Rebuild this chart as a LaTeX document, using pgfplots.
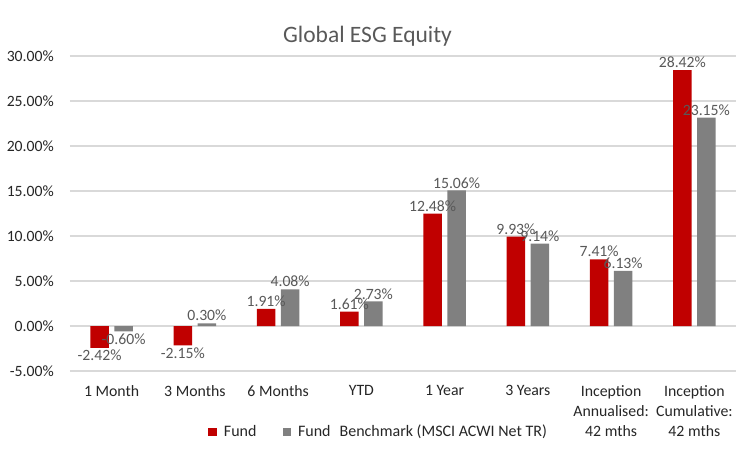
\documentclass[border=0pt]{standalone}
\usepackage{fontspec}
\setmainfont{Carlito}
\usepackage{pgfplots}
\pgfplotsset{compat=1.18}
\definecolor{fundred}{RGB}{192,0,0}
\definecolor{benchgray}{RGB}{128,128,128}
\definecolor{txtgray}{RGB}{89,89,89}
\definecolor{tickgray}{RGB}{38,38,38}
\definecolor{gridgray}{RGB}{217,217,217}
\begin{document}
\begin{tikzpicture}[x=1pt,y=1pt]
\path (0,0) rectangle (749,451);
\node[anchor=base, text=txtgray, font=\fontsize{23.5}{28}\selectfont, inner sep=0pt] at (367.5,408) {Global ESG Equity};
\begin{axis}[
  at={(70pt,80pt)}, anchor=south west,
  scale only axis, width=666pt, height=315pt,
  ybar=5.5pt, bar width=18.5pt,
  xmin=-0.5, xmax=7.5, ymin=-5, ymax=30,
  xtick={0,...,7},
  xticklabels={1 Month, 3 Months, 6 Months, YTD, 1 Year, 3 Years, {Inception\\Annualised:\\42 mths}, {Inception\\Cumulative:\\42 mths}},
  xticklabel style={align=center, font=\fontsize{15.8}{19.7}\selectfont, text=tickgray, anchor=north, inner sep=0pt, yshift=-14.5pt},
  ytick={-5,0,5,10,15,20,25,30},
  yticklabel={\pgfmathprintnumber[fixed,fixed zerofill,precision=2,assume math mode=true]{\tick}\%},
  yticklabel style={font=\fontsize{15.7}{18}\selectfont, text=tickgray, anchor=east, inner sep=0pt, xshift=-16pt},
  major tick length=0pt,
  ymajorgrids, grid style={gridgray, line width=1.3pt},
  axis line style={draw=none},
  nodes near coords={\pgfmathprintnumber[fixed,fixed zerofill,precision=2,assume math mode=true]{\pgfplotspointmeta}\%},
  every node near coord/.append style={font=\fontsize{15.7}{18}\selectfont, text=txtgray, inner sep=2pt},
  legend columns=2,
  legend style={at={(0.4635,-0.193)}, anchor=center, draw=none, fill=none, font=\fontsize{16}{18}\selectfont, text=tickgray, /tikz/every odd column/.append style={column sep=5pt}, /tikz/every even column/.append style={column sep=24pt}},
  legend image code/.code={\fill[#1,draw=none] (0pt,-4.25pt) rectangle (8.5pt,4.25pt);},
]
\addplot[fill=fundred, draw=none] coordinates {(0,-2.42) (1,-2.15) (2,1.91) (3,1.61) (4,12.48) (5,9.93) (6,7.41) (7,28.42)};
\addplot[fill=benchgray, draw=none] coordinates {(0,-0.60) (1,0.30) (2,4.08) (3,2.73) (4,15.06) (5,9.14) (6,6.13) (7,23.15)};
\legend{Fund, Fund\hspace{9pt}Benchmark (MSCI ACWI Net TR)}
\end{axis}
\end{tikzpicture}
\end{document}
